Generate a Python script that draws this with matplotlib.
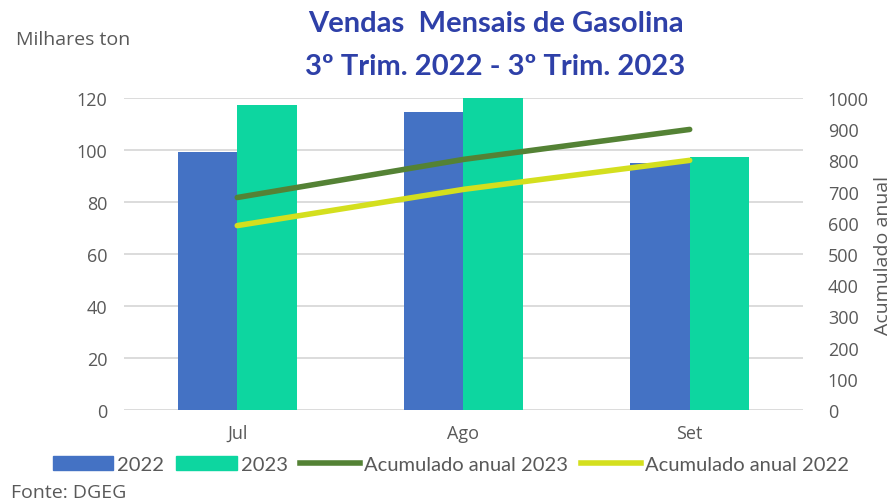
import matplotlib.pyplot as plt
import numpy as np
from matplotlib.patches import Patch
from matplotlib.lines import Line2D

months = ["Jul", "Ago", "Set"]
vendas_2022 = [99.3, 114.5, 94.8]
vendas_2023 = [117.4, 120.3, 97.1]
acum_2023 = [681, 803, 899]
acum_2022 = [591, 707, 800]

c22 = "#4472C4"
c23 = "#0DD6A0"
c_acum23 = "#548235"
c_acum22 = "#D4DF1E"
grey = "#595959"
title_c = "#2E40A8"

fig = plt.figure(figsize=(8.93, 5.02), dpi=100)
ax = fig.add_axes([0.139, 0.181, 0.760, 0.622])
ax2 = ax.twinx()

x = np.arange(len(months))
w = 0.263
ax.bar(x - w / 2, vendas_2022, w, color=c22, zorder=2)
ax.bar(x + w / 2, vendas_2023, w, color=c23, zorder=2)
ax.set_ylim(0, 120)
ax.set_xlim(-0.5, 2.5)
ax.set_yticks(range(0, 121, 20))
ax.grid(axis="y", color="#D9D9D9", linewidth=1.3, zorder=0)
ax.set_axisbelow(True)
ax.set_xticks(x)
ax.set_xticklabels(months)

ax2.plot(x, acum_2023, color=c_acum23, linewidth=4, solid_capstyle="round")
ax2.plot(x, acum_2022, color=c_acum22, linewidth=4, solid_capstyle="round")
ax2.set_ylim(0, 1000)
ax2.set_yticks(range(0, 1001, 100))
ax2.set_ylabel("Acumulado anual", fontsize=14, color=grey, family="Open Sans", labelpad=4)

for a in (ax, ax2):
    for s in a.spines.values():
        s.set_visible(False)
    a.tick_params(length=0, colors=grey, labelsize=13)
    for lab in a.get_yticklabels() + a.get_xticklabels():
        lab.set_family("Open Sans")
ax.tick_params(axis="y", pad=12)
ax.tick_params(axis="x", pad=10)
ax2.tick_params(axis="y", pad=18)

fig.text(0.555, 0.952, "Vendas  Mensais de Gasolina", ha="center", va="center",
         fontsize=21, fontweight="bold", color=title_c, family="Lato")
fig.text(0.555, 0.867, "3º Trim. 2022 - 3º Trim. 2023", ha="center", va="center",
         fontsize=21, fontweight="bold", color=title_c, family="Lato")
fig.text(0.018, 0.92, "Milhares ton", ha="left", va="center", fontsize=14,
         color=grey, family="Open Sans")
fig.text(0.012, 0.0, "Fonte: DGEG", ha="left", va="bottom", fontsize=14,
         color=grey, family="Open Sans")

handles = [Patch(color=c22), Patch(color=c23),
           Line2D([], [], color=c_acum23, linewidth=4),
           Line2D([], [], color=c_acum22, linewidth=4)]
labels = ["2022", "2023", "Acumulado anual 2023", "Acumulado anual 2022"]
fig.legend(handles, labels, loc="center", bbox_to_anchor=(0.505, 0.073), ncol=4,
           frameon=False, handlelength=3, handletextpad=0.2, columnspacing=0.6,
           prop={"family": "Lato", "size": 14.5}, labelcolor=grey)

fig.savefig("out.png", dpi=100)
